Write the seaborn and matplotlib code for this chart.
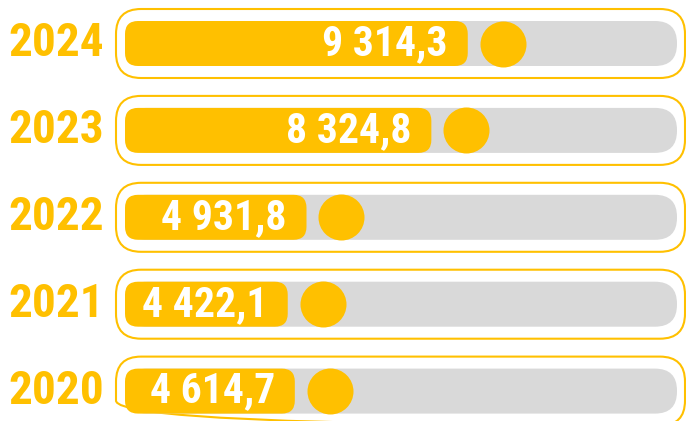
import matplotlib

matplotlib.use("Agg")
import matplotlib.pyplot as plt
import matplotlib.transforms as mtransforms
import numpy as np
import pandas as pd
import seaborn as sns
from matplotlib import font_manager
from matplotlib.patches import FancyBboxPatch

years = ["2024", "2023", "2022", "2021", "2020"]
values = [9314.3, 8324.8, 4931.8, 4422.1, 4614.7]
value_labels = ["9 314,3", "8 324,8", "4 931,8", "4 422,1", "4 614,7"]
track_max = 15000

# --- Style ---
GOLD = "#FFC000"
TRACK = "#D9D9D9"
W, H, DPI = 686, 421, 100
TRACK_LEFT_PX, TRACK_PX = 125, 552   # gray track: left edge and length in pixels
ROW_TOP_PX, ROW_PX = 43.5, 86.9      # centre of first row, row pitch
BAR_PX = 45                          # bar / track thickness

sns.set_style("white")

# narrowest bold family available, the original uses a condensed display face
installed = {f.name for f in font_manager.fontManager.ttflist}
FONT = "DejaVu Sans"
for cand in ["Liberation Sans Narrow", "DejaVu Sans Condensed", "Roboto Condensed"]:
    if cand in installed:
        FONT = cand
        break
plt.rcParams["font.family"] = [FONT, "DejaVu Sans"]
narrow = FONT != "DejaVu Sans"
year_size = 34 if narrow else 22
value_size = 30 if narrow else 17

df = pd.DataFrame({"year": years, "value": values, "track": [track_max] * len(years)})

fig = plt.figure(figsize=(W / DPI, H / DPI), dpi=DPI)
ax = fig.add_axes([TRACK_LEFT_PX / W, 0, TRACK_PX / W, 1])

bar_h = BAR_PX / ROW_PX
sns.barplot(data=df, x="track", y="year", orient="h", color=TRACK, saturation=1,
            width=bar_h, errorbar=None, ax=ax)
sns.barplot(data=df, x="value", y="year", orient="h", color=GOLD, saturation=1,
            width=bar_h, errorbar=None, ax=ax)

ax.set_xlim(0, track_max)
ax.set_ylim((H - ROW_TOP_PX) / ROW_PX, -ROW_TOP_PX / ROW_PX)
ax.set_axis_off()

x_per_px = track_max / TRACK_PX
y_per_px = 1 / ROW_PX
aspect = y_per_px / x_per_px

# swap seaborn's square bars for rounded ones (same geometry)
rects = list(ax.patches)
for i, r in enumerate(rects):
    radius = 22 if i < len(years) else 13
    ax.add_patch(FancyBboxPatch(
        (r.get_x(), r.get_y()), r.get_width(), r.get_height(),
        boxstyle=f"round,pad=0,rounding_size={radius * x_per_px}",
        mutation_aspect=aspect, facecolor=r.get_facecolor(), edgecolor="none",
        zorder=2 if i < len(years) else 3, clip_on=False))
    r.remove()

# outline frame around each row
rows = np.arange(len(years))
for y in rows:
    ax.add_patch(FancyBboxPatch(
        (-9 * x_per_px, y - 34.5 * y_per_px), 569 * x_per_px, 69 * y_per_px,
        boxstyle=f"round,pad=0,rounding_size={25 * x_per_px}",
        mutation_aspect=aspect, facecolor="none", edgecolor=GOLD,
        linewidth=1.5, zorder=1, clip_on=False))

# dot sitting just past the end of each bar
dot_shift = mtransforms.ScaledTranslation(35 / DPI, 0, fig.dpi_scale_trans)
ax.scatter(values, rows, s=(46 * 72 / DPI) ** 2, color=GOLD, linewidths=0,
           transform=ax.transData + dot_shift, zorder=4, clip_on=False)

# value labels, right aligned inside the bar
for y, v, lab in zip(rows, values, value_labels):
    ax.annotate(lab, (v, y), xytext=(-20, 0), textcoords="offset pixels",
                ha="right", va="center", color="white", fontsize=value_size,
                fontweight="bold", zorder=5, annotation_clip=False)

# year labels on the left
year_tr = mtransforms.blended_transform_factory(fig.transFigure, ax.transData)
for y, yr in zip(rows, years):
    ax.text(56 / W, y, yr, transform=year_tr, ha="center", va="center",
            color=GOLD, fontsize=year_size, fontweight="bold", clip_on=False)

fig.savefig("out.png", dpi=DPI, facecolor="white")
